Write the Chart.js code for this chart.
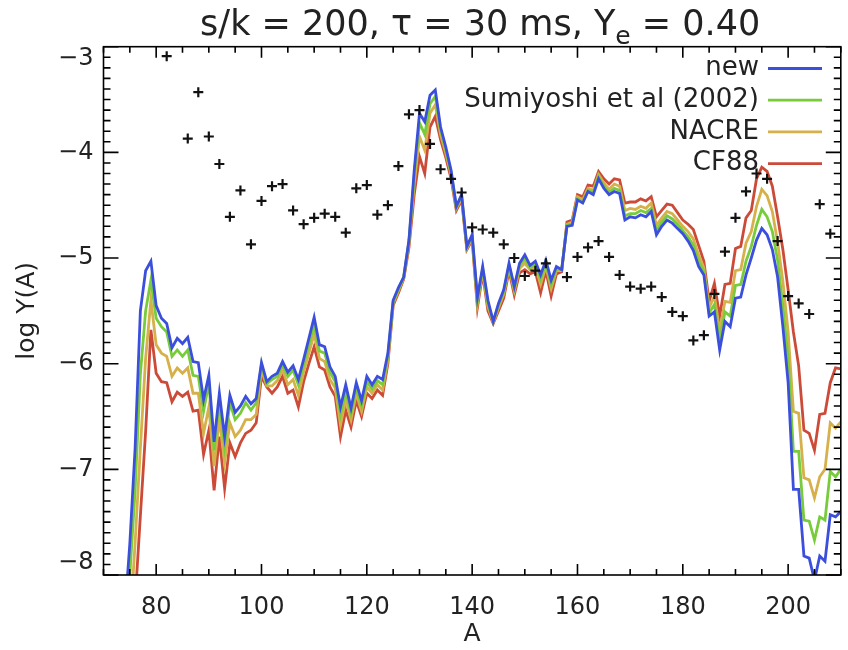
<!DOCTYPE html>
<html><head><meta charset="utf-8">
<script src="https://cdn.jsdelivr.net/npm/chart.js@4.4.1/dist/chart.umd.min.js"></script>
<style>html,body{margin:0;padding:0;background:#fff}#wrap{width:848px;height:650px}</style>
</head><body><div id="wrap"><canvas id="c" width="848" height="650"></canvas></div>
<script>
const massNumbers = [74,75,76,77,78,79,80,81,82,83,84,85,86,87,88,89,90,91,92,93,94,95,96,97,98,99,100,101,102,103,104,105,106,107,108,109,110,111,112,113,114,115,116,117,118,119,120,121,122,123,124,125,126,127,128,129,130,131,132,133,134,135,136,137,138,139,140,141,142,143,144,145,146,147,148,149,150,151,152,153,154,155,156,157,158,159,160,161,162,163,164,165,166,167,168,169,170,171,172,173,174,175,176,177,178,179,180,181,182,183,184,185,186,187,188,189,190,191,192,193,194,195,196,197,198,199,200,201,202,203,204,205,206,207,208,209,210];

const newRates = [
-8.4,-7.7,-6.8,-5.5,-5.12,-5.03,-5.45,-5.57,-5.62,-5.85,
-5.76,-5.81,-5.75,-5.98,-5.99,-6.34,-6.11,-6.74,-6.28,-6.69,
-6.30,-6.46,-6.40,-6.31,-6.38,-6.33,-5.99,-6.17,-6.12,-6.09,
-5.98,-6.08,-6.02,-6.15,-5.96,-5.76,-5.56,-5.82,-5.84,-6.03,
-6.12,-6.41,-6.20,-6.42,-6.18,-6.35,-6.12,-6.20,-6.12,-6.15,
-5.90,-5.40,-5.28,-5.18,-4.83,-4.17,-3.63,-3.71,-3.46,-3.41,
-3.76,-3.95,-4.17,-4.51,-4.40,-4.89,-4.78,-5.37,-5.08,-5.40,
-5.60,-5.43,-5.30,-5.05,-5.27,-5.05,-4.97,-5.07,-5.03,-5.16,
-5.02,-5.21,-5.08,-5.11,-4.70,-4.69,-4.45,-4.48,-4.37,-4.40,
-4.25,-4.34,-4.40,-4.37,-4.39,-4.64,-4.61,-4.62,-4.59,-4.61,
-4.56,-4.78,-4.70,-4.64,-4.67,-4.72,-4.77,-4.84,-4.93,-5.08,
-5.16,-5.55,-5.51,-5.87,-5.60,-5.65,-5.38,-5.37,-5.16,-5.00,
-4.83,-4.72,-4.78,-4.92,-5.18,-5.65,-6.18,-7.19,-7.19,-7.82,
-7.84,-8.05,-7.82,-7.87,-7.43,-7.45,-7.40];

const sumiyoshi = [
-8.9,-8.0,-7.2,-6.1,-5.5,-5.21,-5.57,-5.65,-5.70,-5.93,
-5.87,-5.93,-5.87,-6.11,-6.12,-6.45,-6.18,-6.82,-6.34,-6.78,
-6.37,-6.53,-6.47,-6.37,-6.44,-6.37,-6.01,-6.19,-6.15,-6.12,
-6.01,-6.12,-6.06,-6.20,-6.01,-5.82,-5.63,-5.88,-5.90,-6.08,
-6.17,-6.48,-6.26,-6.47,-6.23,-6.40,-6.17,-6.24,-6.16,-6.20,
-5.93,-5.41,-5.30,-5.18,-4.84,-4.22,-3.72,-3.83,-3.54,-3.47,
-3.79,-3.98,-4.19,-4.52,-4.41,-4.90,-4.79,-5.40,-5.10,-5.43,
-5.60,-5.45,-5.32,-5.07,-5.29,-5.07,-5.01,-5.09,-5.06,-5.20,
-5.05,-5.25,-5.10,-5.11,-4.69,-4.68,-4.44,-4.47,-4.36,-4.38,
-4.23,-4.32,-4.38,-4.34,-4.36,-4.60,-4.58,-4.58,-4.55,-4.57,
-4.53,-4.74,-4.66,-4.60,-4.63,-4.68,-4.74,-4.80,-4.88,-5.03,
-5.13,-5.52,-5.44,-5.79,-5.51,-5.55,-5.26,-5.25,-5.03,-4.89,
-4.69,-4.54,-4.61,-4.75,-5.02,-5.45,-5.95,-6.83,-6.83,-7.48,
-7.49,-7.67,-7.45,-7.48,-7.02,-7.07,-7.00];

const nacre = [
-9.3,-8.5,-7.7,-6.8,-5.95,-5.40,-5.82,-5.90,-5.93,-6.12,
-6.04,-6.09,-6.04,-6.28,-6.28,-6.66,-6.41,-6.97,-6.52,-6.94,
-6.56,-6.69,-6.63,-6.53,-6.53,-6.48,-6.06,-6.21,-6.21,-6.16,
-6.06,-6.20,-6.15,-6.30,-6.08,-5.90,-5.72,-5.95,-5.98,-6.15,
-6.23,-6.58,-6.34,-6.53,-6.28,-6.45,-6.22,-6.28,-6.20,-6.25,
-5.96,-5.43,-5.31,-5.19,-4.86,-4.30,-3.85,-3.98,-3.63,-3.55,
-3.83,-4.01,-4.21,-4.53,-4.43,-4.91,-4.81,-5.43,-5.12,-5.46,
-5.61,-5.47,-5.34,-5.09,-5.31,-5.10,-5.05,-5.11,-5.08,-5.25,
-5.08,-5.29,-5.12,-5.12,-4.68,-4.66,-4.42,-4.45,-4.34,-4.36,
-4.21,-4.29,-4.35,-4.30,-4.32,-4.55,-4.53,-4.54,-4.51,-4.53,
-4.48,-4.69,-4.62,-4.56,-4.58,-4.64,-4.70,-4.75,-4.82,-4.97,
-5.09,-5.47,-5.36,-5.69,-5.41,-5.42,-5.12,-5.11,-4.86,-4.75,
-4.51,-4.35,-4.41,-4.56,-4.85,-5.22,-5.70,-6.45,-6.47,-7.08,
-7.10,-7.27,-7.07,-7.00,-6.56,-6.61,-6.55];

const cf88 = [
-9.8,-9.0,-8.25,-7.44,-6.64,-5.68,-6.09,-6.17,-6.18,-6.36,
-6.27,-6.31,-6.27,-6.45,-6.44,-6.86,-6.63,-7.20,-6.69,-7.18,
-6.75,-6.88,-6.75,-6.66,-6.63,-6.56,-6.12,-6.22,-6.28,-6.22,
-6.12,-6.28,-6.25,-6.41,-6.17,-6.00,-5.84,-6.03,-6.06,-6.22,
-6.31,-6.69,-6.44,-6.60,-6.35,-6.50,-6.28,-6.33,-6.25,-6.30,
-6.00,-5.45,-5.33,-5.20,-4.90,-4.40,-4.04,-4.20,-3.76,-3.66,
-3.88,-4.05,-4.25,-4.55,-4.45,-4.92,-4.83,-5.47,-5.15,-5.50,
-5.62,-5.50,-5.38,-5.12,-5.35,-5.14,-5.11,-5.15,-5.13,-5.33,
-5.12,-5.36,-5.15,-5.13,-4.66,-4.64,-4.40,-4.42,-4.31,-4.32,
-4.18,-4.25,-4.30,-4.25,-4.26,-4.48,-4.47,-4.47,-4.44,-4.46,
-4.42,-4.61,-4.55,-4.49,-4.50,-4.57,-4.64,-4.68,-4.73,-4.88,
-5.03,-5.41,-5.24,-5.55,-5.25,-5.24,-4.91,-4.89,-4.62,-4.55,
-4.25,-4.14,-4.18,-4.32,-4.61,-4.92,-5.30,-5.70,-6.02,-6.63,
-6.66,-6.82,-6.48,-6.47,-6.18,-6.04,-6.05];

const solarA = [82,86,88,90,92,94,96,98,100,102,104,106,108,110,112,114,116,118,120,122,124,126,128,130,132,134,136,138,140,142,144,146,148,150,152,154,158,160,162,164,166,168,170,172,174,176,178,180,182,184,186,188,190,192,194,196,198,200,202,204,206,208];
const solarY = [-3.09,-3.87,-3.43,-3.85,-4.11,-4.61,-4.36,-4.87,-4.46,-4.32,-4.30,-4.55,-4.68,-4.62,-4.58,-4.61,-4.76,-4.34,-4.31,-4.59,-4.50,-4.13,-3.64,-3.60,-3.92,-4.16,-4.25,-4.38,-4.71,-4.73,-4.76,-4.87,-5.00,-5.17,-5.12,-5.05,-5.18,-4.99,-4.90,-4.84,-4.99,-5.16,-5.27,-5.29,-5.27,-5.37,-5.51,-5.55,-5.78,-5.73,-5.34,-4.94,-4.62,-4.37,-4.20,-4.25,-4.84,-5.36,-5.43,-5.53,-4.49,-4.77];

const xTickValues = [80,100,120,140,160,180,200];
const yTickValues = [-8,-7,-6,-5,-4,-3];
const seriesLabels = ['new','Sumiyoshi et al (2002)','NACRE','CF88'];
const seriesColors = ['#3b4fdc','#78cc3c','#d6b04a','#cc4b38'];

const pairs = (xs, ys) => xs.map((a, i) => ({x: a, y: ys[i]}));
const seriesData = [newRates, sumiyoshi, nacre, cf88];

const FONT = '"DejaVu Sans", "Liberation Sans", sans-serif';

const framePlugin = {
  id: 'frame',
  afterDraw(chart) {
    const c = chart.ctx;
    const {left, right, top, bottom} = chart.chartArea;
    const xs = chart.scales.x, ys = chart.scales.y;
    c.save();
    c.strokeStyle = '#000';
    c.lineWidth = 1.6;
    c.strokeRect(left, top, right - left, bottom - top);
    c.beginPath();
    for (let v = 70; v <= 210; v += 5) {
      const px = xs.getPixelForValue(v);
      const len = (v % 20 === 0) ? 11 : 6;
      c.moveTo(px, bottom); c.lineTo(px, bottom - len);
      c.moveTo(px, top); c.lineTo(px, top + len);
    }
    for (let k = -80; k <= -30; k++) {
      const py = ys.getPixelForValue(k / 10);
      const len = (k % 10 === 0) ? 15 : 7;
      c.moveTo(left, py); c.lineTo(left + len, py);
      c.moveTo(right, py); c.lineTo(right - len, py);
    }
    c.stroke();

    // legend
    c.font = '26px ' + FONT;
    c.textBaseline = 'middle';
    c.textAlign = 'right';
    chart.data.datasets.slice(0, 4).forEach((ds, i) => {
      const y = 68.5 + i * 31.7;
      c.fillStyle = '#222';
      c.fillText(ds.label, 759, y);
      c.strokeStyle = ds.borderColor;
      c.lineWidth = 2.8;
      c.beginPath(); c.moveTo(768, y); c.lineTo(822, y); c.stroke();
    });

    // title
    const p1 = 's/k = 200, \u03c4 = 30 ms, Y', sub = 'e', p3 = ' = 0.40';
    const big = '35px ' + FONT, small = '25px ' + FONT;
    c.font = big; const w1 = c.measureText(p1).width, w3 = c.measureText(p3).width;
    c.font = small; const w2 = c.measureText(sub).width;
    const total = w1 + w2 + w3;
    let x0 = (left + right) / 2 + 8 - total / 2;
    const base = 35;
    c.textAlign = 'left'; c.textBaseline = 'alphabetic'; c.fillStyle = '#222';
    c.font = big; c.fillText(p1, x0, base);
    c.font = small; c.fillText(sub, x0 + w1, base + 9);
    c.font = big; c.fillText(p3, x0 + w1 + w2, base);
    c.restore();
  }
};

const datasets = seriesData.map((ys, i) => ({
  label: seriesLabels[i],
  data: pairs(massNumbers, ys),
  borderColor: seriesColors[i],
  backgroundColor: seriesColors[i],
  borderWidth: 2.8,
  pointRadius: 0,
  tension: 0,
  fill: false,
  order: i + 1
}));
datasets.push({
  label: 'solar r-process',
  data: pairs(solarA, solarY),
  showLine: false,
  pointStyle: 'cross',
  pointRadius: 5,
  borderWidth: 2.2,
  borderColor: '#111',
  backgroundColor: '#111',
  order: 0
});

new Chart(document.getElementById('c'), {
  type: 'line',
  data: {datasets},
  options: {
    responsive: false,
    animation: false,
    devicePixelRatio: 1,
    layout: {padding: {left: 0, right: 1.5, top: 46.7, bottom: 0}},
    plugins: {legend: {display: false}, tooltip: {enabled: false}, title: {display: false}},
    scales: {
      x: {
        type: 'linear', min: 70, max: 210,
        grid: {display: false, drawTicks: false},
        border: {display: false},
        afterBuildTicks: (s) => { s.ticks = xTickValues.map(v => ({value: v})); },
        afterFit: (s) => { s.height = 75; },
        ticks: {color: '#222', padding: 18, maxRotation: 0, autoSkip: false,
          font: {family: FONT, size: 24}, callback: (v) => String(v)},
        title: {display: true, text: 'A', color: '#222', font: {family: FONT, size: 25}, padding: {top: 0, bottom: 1}}
      },
      y: {
        type: 'linear', min: -8, max: -3,
        grid: {display: false, drawTicks: false},
        border: {display: false},
        afterBuildTicks: (s) => { s.ticks = yTickValues.map(v => ({value: v})); },
        afterFit: (s) => { s.width = 103.5; },
        ticks: {color: '#222', padding: 10, autoSkip: false,
          font: {family: FONT, size: 24, lineHeight: 1.0},
          callback: (v) => {
            const s = '\u2212' + Math.abs(Math.round(v));
            if (Math.round(v) === -3) return ['', s];
            if (Math.round(v) === -8) return [s, ''];
            return s;
          }},
        title: {display: true, text: 'log Y(A)', color: '#222', font: {family: FONT, size: 25}, padding: {top: 12, bottom: 0}}
      }
    }
  },
  plugins: [framePlugin]
});
</script>
</body></html>
